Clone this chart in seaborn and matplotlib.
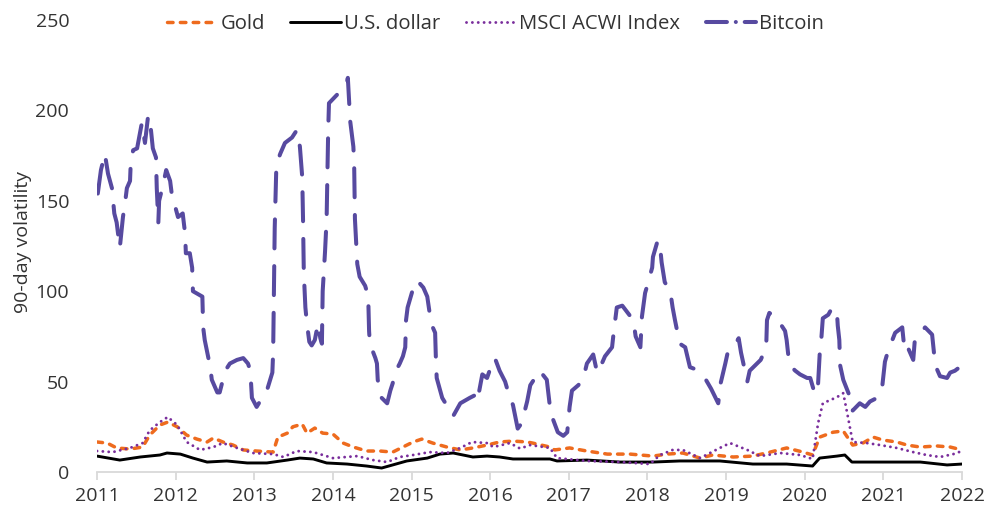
import matplotlib
matplotlib.use("Agg")
import matplotlib.pyplot as plt
from matplotlib.lines import Line2D
import seaborn as sns

# ---------------- data ----------------
btc_t = [2011.01, 2011.05, 2011.10, 2011.14, 2011.19, 2011.22, 2011.25, 2011.29, 2011.33, 2011.36,
         2011.38, 2011.42, 2011.43, 2011.46, 2011.51, 2011.57, 2011.61, 2011.65, 2011.67, 2011.71,
         2011.75, 2011.76, 2011.78, 2011.79, 2011.83, 2011.88, 2011.93, 2011.95, 2012.03, 2012.09,
         2012.12, 2012.13, 2012.18, 2012.21, 2012.22, 2012.34, 2012.35, 2012.37, 2012.44, 2012.46,
         2012.53, 2012.56, 2012.63, 2012.69, 2012.78, 2012.86, 2012.92, 2012.95, 2012.97, 2013.03,
         2013.10, 2013.16, 2013.23, 2013.24, 2013.25, 2013.26, 2013.28, 2013.29, 2013.33, 2013.39,
         2013.48, 2013.54, 2013.58, 2013.61, 2013.62, 2013.63, 2013.65, 2013.67, 2013.70, 2013.73,
         2013.77, 2013.81, 2013.84, 2013.86, 2013.87, 2013.90, 2013.92, 2013.94, 2013.95, 2014.06,
         2014.12, 2014.18, 2014.19, 2014.22, 2014.26, 2014.27, 2014.28, 2014.31, 2014.34, 2014.41,
         2014.43, 2014.45, 2014.46, 2014.47, 2014.54, 2014.56, 2014.57, 2014.62, 2014.69, 2014.73,
         2014.76, 2014.79, 2014.85, 2014.89, 2014.92, 2014.93, 2014.95, 2015.01, 2015.07, 2015.11,
         2015.15, 2015.20, 2015.23, 2015.27, 2015.30, 2015.31, 2015.32, 2015.39, 2015.46, 2015.53,
         2015.62, 2015.74, 2015.83, 2015.84, 2015.90, 2015.96, 2016.00, 2016.06, 2016.12, 2016.19,
         2016.23, 2016.29, 2016.35, 2016.40, 2016.47, 2016.51, 2016.57, 2016.63, 2016.72, 2016.76,
         2016.80, 2016.86, 2016.93, 2016.98, 2017.01, 2017.04, 2017.12, 2017.18, 2017.23, 2017.31,
         2017.36, 2017.40, 2017.46, 2017.55, 2017.57, 2017.61, 2017.68, 2017.75, 2017.82, 2017.85,
         2017.91, 2017.93, 2017.97, 2017.99, 2018.06, 2018.07, 2018.13, 2018.16, 2018.18, 2018.22,
         2018.29, 2018.32, 2018.35, 2018.41, 2018.48, 2018.54, 2018.60, 2018.73, 2018.81, 2018.90,
         2018.93, 2018.99, 2019.02, 2019.11, 2019.16, 2019.19, 2019.27, 2019.30, 2019.37, 2019.44,
         2019.51, 2019.52, 2019.55, 2019.62, 2019.69, 2019.75, 2019.77, 2019.79, 2019.81, 2019.88,
         2019.94, 2020.03, 2020.07, 2020.13, 2020.17, 2020.19, 2020.21, 2020.23, 2020.30, 2020.35,
         2020.41, 2020.42, 2020.44, 2020.45, 2020.49, 2020.58, 2020.61, 2020.70, 2020.77, 2020.83,
         2020.92, 2020.98, 2021.02, 2021.06, 2021.15, 2021.24, 2021.27, 2021.31, 2021.38, 2021.40,
         2021.47, 2021.53, 2021.62, 2021.66, 2021.72, 2021.81, 2021.85, 2021.91, 2021.97]
btc_v = [154, 167, 176, 165, 157, 143, 138, 124, 141, 150,
         157, 161, 172, 178, 179, 193, 182, 197, 196, 179,
         174, 157, 138, 150, 157, 167, 161, 154, 141, 143,
         132, 121, 121, 113, 100, 97, 80, 73, 58, 51,
         44, 44, 56, 60, 62, 63, 60, 56, 41, 36,
         41, 45, 55, 66, 100, 135, 168, 171, 176, 182,
         185, 189, 180, 163, 140, 110, 91, 82, 72, 70,
         73, 82, 74, 71, 100, 122, 140, 189, 204, 209,
         212, 216, 218, 194, 180, 171, 140, 115, 108, 103,
         100, 95, 78, 71, 63, 60, 51, 41, 38, 45,
         49, 55, 60, 64, 69, 84, 91, 100, 106, 104,
         102, 97, 88, 80, 77, 62, 52, 41, 36, 31,
         38, 41, 43, 40, 54, 52, 57, 63, 56, 50,
         44, 37, 24, 27, 39, 48, 52, 56, 51, 36,
         29, 22, 20, 22, 36, 45, 48, 51, 60, 65,
         55, 58, 64, 69, 77, 91, 92, 88, 84, 75,
         69, 86, 99, 102, 113, 119, 128, 125, 116, 105,
         100, 91, 84, 71, 69, 58, 57, 52, 46, 38,
         49, 60, 66, 70, 74, 66, 50, 56, 59, 62,
         69, 84, 88, 86, 82, 78, 73, 65, 59, 56,
         54, 52, 52, 43, 49, 65, 73, 85, 87, 91,
         88, 81, 73, 59, 51, 41, 34, 38, 36, 39,
         41, 45, 61, 67, 77, 80, 67, 69, 62, 73,
         76, 80, 76, 59, 53, 52, 55, 56, 58]

gold_t = [2011.00, 2011.13, 2011.25, 2011.42, 2011.58, 2011.67, 2011.80, 2011.90, 2012.02, 2012.14,
          2012.27, 2012.40, 2012.48, 2012.60, 2012.73, 2012.86, 2013.03, 2013.24, 2013.30, 2013.42,
          2013.49, 2013.61, 2013.67, 2013.77, 2013.87, 2014.00, 2014.13, 2014.26, 2014.43, 2014.60,
          2014.76, 2014.89, 2015.02, 2015.13, 2015.27, 2015.45, 2015.62, 2015.78, 2015.96, 2016.12,
          2016.29, 2016.47, 2016.54, 2016.76, 2016.82, 2017.01, 2017.23, 2017.49, 2017.78, 2018.07,
          2018.25, 2018.45, 2018.67, 2018.83, 2019.09, 2019.34, 2019.56, 2019.77, 2019.98, 2020.10,
          2020.19, 2020.36, 2020.49, 2020.55, 2020.61, 2020.74, 2020.87, 2020.99, 2021.17, 2021.30,
          2021.47, 2021.68, 2021.85, 2022.00]
gold_v = [16.6, 16.0, 13.3, 12.7, 13.8, 20.4, 26.0, 27.6, 25.0, 20.4,
          18.2, 16.6, 18.8, 16.6, 14.9, 12.2, 11.6, 11.0, 19.3, 21.5,
          25.0, 26.5, 21.5, 24.3, 21.5, 21.0, 16.0, 13.8, 11.6, 11.6,
          11.0, 13.8, 16.6, 18.2, 16.0, 13.8, 12.2, 13.3, 14.9, 16.6,
          17.1, 16.6, 16.0, 13.8, 12.2, 13.3, 11.6, 9.9, 9.9, 8.8,
          9.9, 10.5, 7.7, 9.4, 8.3, 8.8, 11.0, 13.3, 11.0, 9.4,
          19.3, 22.0, 22.7, 18.8, 14.9, 16.0, 19.3, 17.7, 16.6, 14.9,
          13.8, 14.4, 13.8, 12.2]

usd_t = [2011.00, 2011.29, 2011.55, 2011.80, 2011.89, 2012.06, 2012.22, 2012.40, 2012.65, 2012.91,
         2013.16, 2013.42, 2013.58, 2013.75, 2013.92, 2014.18, 2014.43, 2014.62, 2014.76, 2014.94,
         2015.20, 2015.36, 2015.53, 2015.78, 2015.96, 2016.12, 2016.29, 2016.47, 2016.76, 2016.85,
         2017.23, 2017.65, 2018.07, 2018.41, 2018.92, 2019.34, 2019.77, 2020.10, 2020.19, 2020.41,
         2020.51, 2020.60, 2021.05, 2021.47, 2021.81, 2022.00]
usd_v = [8.8, 6.6, 8.3, 9.4, 10.5, 9.9, 7.7, 5.5, 6.1, 5.0,
         5.0, 6.6, 7.7, 7.2, 5.0, 4.4, 3.3, 2.2, 3.9, 6.1,
         7.7, 9.9, 10.5, 8.3, 8.8, 8.3, 7.2, 7.2, 7.2, 6.1,
         6.6, 5.5, 5.5, 6.1, 6.1, 4.4, 4.4, 3.3, 7.7, 8.8,
         9.4, 5.5, 5.5, 5.5, 3.9, 4.4]

msci_t = [2011.00, 2011.20, 2011.42, 2011.58, 2011.67, 2011.80, 2011.90, 2012.02, 2012.14, 2012.31,
          2012.48, 2012.60, 2012.78, 2012.98, 2013.24, 2013.37, 2013.54, 2013.75, 2014.00, 2014.31,
          2014.51, 2014.69, 2014.85, 2015.02, 2015.23, 2015.45, 2015.62, 2015.77, 2015.96, 2016.04,
          2016.25, 2016.38, 2016.51, 2016.76, 2016.85, 2017.23, 2017.65, 2018.03, 2018.16, 2018.32,
          2018.45, 2018.67, 2018.92, 2019.05, 2019.27, 2019.43, 2019.69, 2019.94, 2020.10, 2020.17,
          2020.23, 2020.41, 2020.49, 2020.54, 2020.61, 2020.79, 2020.96, 2021.17, 2021.38, 2021.55,
          2021.72, 2021.89, 2022.00]
msci_v = [11.6, 11.0, 13.3, 16.0, 23.0, 27.6, 30.4, 26.0, 16.6, 12.2,
          13.8, 16.0, 13.3, 10.5, 9.9, 8.3, 11.6, 11.0, 7.7, 8.8,
          6.6, 5.5, 8.3, 9.4, 11.0, 10.5, 13.3, 16.6, 16.0, 13.8,
          16.0, 13.0, 14.9, 13.3, 7.7, 6.1, 5.5, 4.4, 9.4, 12.2,
          12.2, 7.7, 13.3, 16.0, 12.2, 8.8, 10.5, 9.4, 7.2, 27.0,
          38.0, 41.4, 43.6, 32.6, 16.6, 16.0, 14.9, 13.3, 11.0, 9.4,
          8.3, 9.9, 11.6]

series_names = ["Gold", "U.S. dollar", "MSCI ACWI Index", "Bitcoin"]
x_ticks = list(range(2011, 2023))
y_ticks = [0, 50, 100, 150, 200, 250]
y_label = "90-day volatility"

# ---------------- style ----------------
sns.set_theme(style="white")
plt.rcParams["font.family"] = ["Open Sans", "DejaVu Sans"]
text_color = "#333333"
FS = 14

fig = plt.figure(figsize=(9.86, 5.11), dpi=100)
ax = fig.add_axes([97 / 986, 1 - 472 / 511, 865 / 986, 452 / 511])

colors = {"Gold": "#EE6B1E", "U.S. dollar": "#000000",
          "MSCI ACWI Index": "#7A2E9C", "Bitcoin": "#574AA0"}

styles = {
    "Gold": dict(linewidth=2.5, linestyle=(0, (1.6, 2.1)), dash_capstyle="round"),
    "U.S. dollar": dict(linewidth=2.1, linestyle="-"),
    "MSCI ACWI Index": dict(linewidth=2.1, linestyle=(0, (0.01, 2.0)), dash_capstyle="round"),
    "Bitcoin": dict(linewidth=2.9, linestyle=(0, (7.2, 4.4)), dash_capstyle="round"),
}

for name, t, v in [("Gold", gold_t, gold_v), ("U.S. dollar", usd_t, usd_v),
                   ("MSCI ACWI Index", msci_t, msci_v), ("Bitcoin", btc_t, btc_v)]:
    sns.lineplot(x=t, y=v, ax=ax, color=colors[name], estimator=None, errorbar=None,
                 legend=False, **styles[name])

ax.set_xlim(2011, 2022)
ax.set_ylim(0, 250)
ax.set_xticks(x_ticks)
ax.set_xticklabels([str(t) for t in x_ticks])
ax.set_yticks(y_ticks)
ax.set_yticklabels([str(v) for v in y_ticks])
ax.set_xlabel("")
ax.set_ylabel(y_label, fontsize=FS, color=text_color)
ax.yaxis.set_label_coords((32 - 97) / 865, (472 - 242) / 452)

for s in ["top", "right", "left"]:
    ax.spines[s].set_visible(False)
ax.spines["bottom"].set_color("#d9d9d9")
ax.spines["bottom"].set_linewidth(1.3)
ax.tick_params(axis="x", which="major", direction="out", length=6, width=1.3,
               color="#d9d9d9", labelsize=FS, labelcolor=text_color, pad=5, bottom=True)
ax.tick_params(axis="y", length=0, labelsize=FS, labelcolor=text_color, pad=20, left=False)
ax.grid(False)

# legend handles (Bitcoin key shows a long dash followed by a dot)
handles = [
    Line2D([], [], color=colors["Gold"], **styles["Gold"]),
    Line2D([], [], color=colors["U.S. dollar"], **styles["U.S. dollar"]),
    Line2D([], [], color=colors["MSCI ACWI Index"], **styles["MSCI ACWI Index"]),
    Line2D([], [], color=colors["Bitcoin"], linewidth=2.9,
           linestyle=(0, (5.2, 2.2, 0.01, 2.2)), dash_capstyle="round"),
]
leg = ax.legend(handles, series_names, loc="center",
                bbox_to_anchor=((495.5 - 97) / 865, (472 - 24) / 452),
                ncol=4, frameon=False, fontsize=14.6, handlelength=2.5, handletextpad=0.15,
                columnspacing=1.25, borderaxespad=0)
for txt in leg.get_texts():
    txt.set_color(text_color)

fig.savefig("out.png", dpi=100)
